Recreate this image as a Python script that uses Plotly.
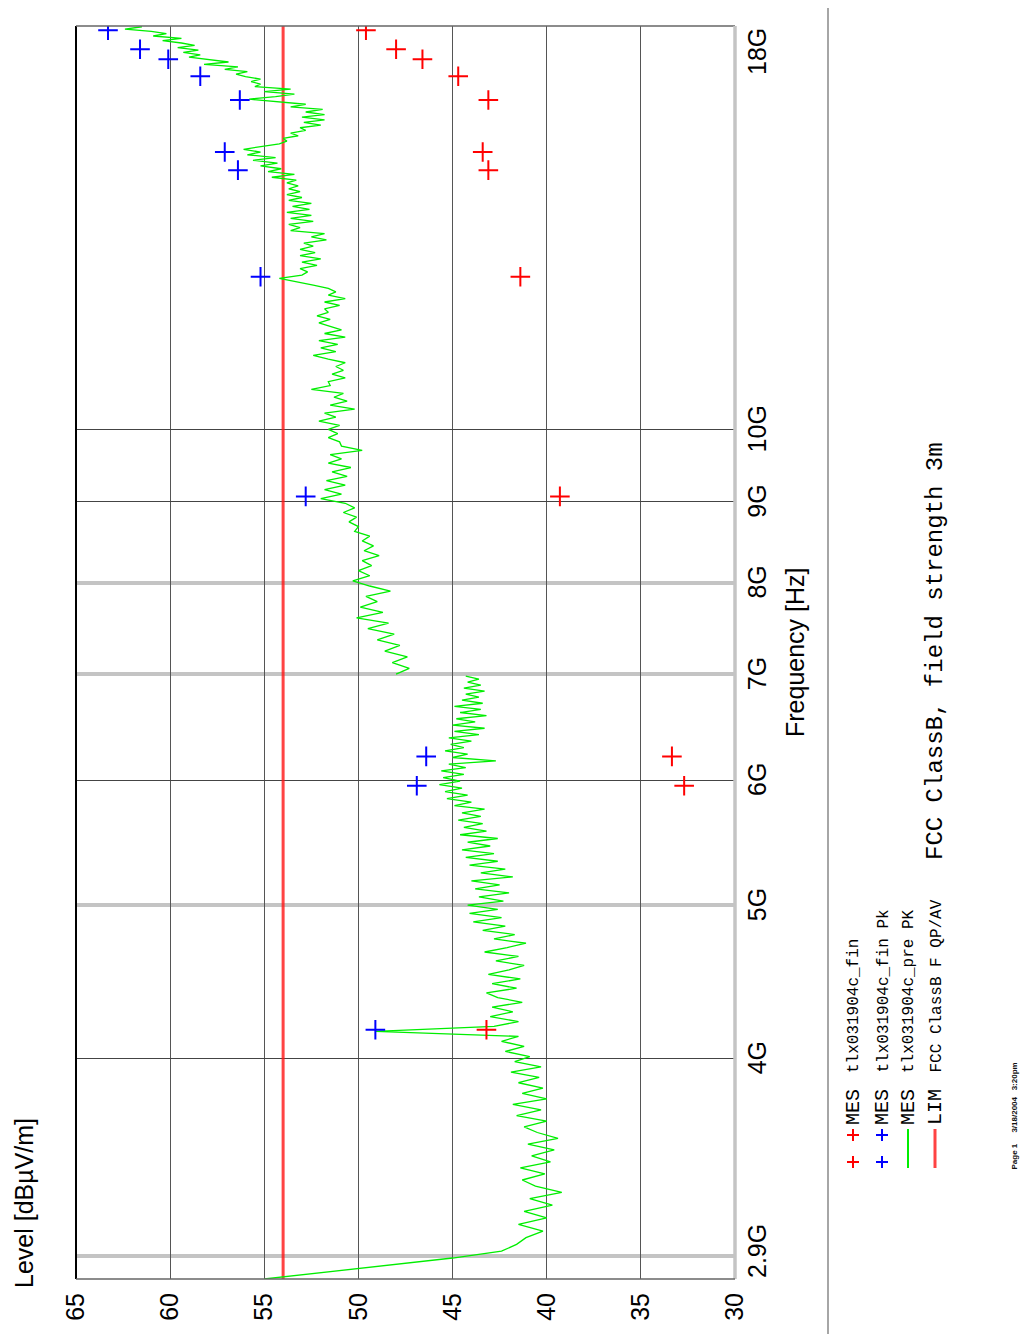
import math
import plotly.graph_objects as go

# ---------------- data ----------------
level_ticks = [65, 60, 55, 50, 45, 40, 35, 30]
freq_tick_ghz = [2.9, 4, 5, 6, 7, 8, 9, 10, 18]
freq_tick_labels = ["2.9G", "4G", "5G", "6G", "7G", "8G", "9G", "10G", "18G"]
grid_dark_ghz = [4, 6, 9, 10]
grid_light_ghz = [3, 5, 7, 8]

# pre-scan (MES tlx031904c_pre PK), lower band, MHz / dBuV/m
pre_low_mhz = [
    2900, 2930, 2960, 2990, 3020, 3050, 3080, 3110, 3140, 3170,
    3200, 3230, 3260, 3290, 3320, 3350, 3380, 3410, 3440, 3470,
    3500, 3530, 3560, 3590, 3620, 3650, 3680, 3710, 3740, 3770,
    3800, 3830, 3860, 3890, 3920, 3950, 3980, 4010, 4040, 4070,
    4100, 4130, 4160, 4190, 4220, 4250, 4280, 4310, 4340, 4370,
    4400, 4430, 4460, 4490, 4520, 4550, 4580, 4610, 4640, 4670,
    4700, 4730, 4760, 4790, 4820, 4850, 4880, 4910, 4940, 4970,
    5000, 5030, 5060, 5090, 5120, 5150, 5180, 5210, 5240, 5270,
    5300, 5330, 5360, 5390, 5420, 5450, 5480, 5510, 5540, 5570,
    5600, 5630, 5660, 5690, 5720, 5750, 5780, 5810, 5840, 5870,
    5900, 5930, 5960, 5990, 6020, 6050, 6080, 6110, 6140, 6170,
    6200, 6230, 6260, 6290, 6320, 6350, 6380, 6410, 6440, 6470,
    6500, 6530, 6560, 6590, 6620, 6650, 6680, 6710, 6740, 6770,
    6800, 6830, 6860, 6890, 6920, 6950, 6980,
]
pre_low_level = [
    55.0, 51.6, 48.2, 45.0, 42.4, 41.6, 41.1, 40.2, 41.5, 40.0,
    41.2, 39.7, 40.9, 39.2, 40.6, 41.3, 40.1, 41.4, 39.8, 40.8,
    39.6, 41.0, 39.4, 40.5, 41.2, 40.0, 41.6, 40.3, 41.8, 40.0,
    41.3, 40.2, 41.5, 40.4, 41.9, 40.3, 41.7, 40.9, 42.2, 41.2,
    42.4, 41.5, 49.1, 42.8, 41.5, 43.0, 41.8, 42.9, 41.3, 42.6,
    43.2, 41.6, 42.9, 41.4, 43.1, 42.0, 41.2, 42.7, 41.5, 43.3,
    42.1, 41.1, 42.8, 41.7, 43.4, 42.2, 43.9, 42.4, 44.1, 42.6,
    44.2, 42.3, 43.6, 42.0, 43.8, 42.5, 44.0, 41.8, 43.5, 42.2,
    44.1, 42.6, 44.3, 42.8, 44.5, 43.0, 44.2, 42.6, 44.6, 43.2,
    44.4, 43.4, 44.7, 43.5, 44.5, 43.3, 44.9, 44.0, 45.3, 44.2,
    45.4, 44.5, 45.7, 44.6, 45.5, 44.4, 45.6, 44.3, 45.2, 42.7,
    45.0, 44.2, 45.4, 44.4, 45.1, 44.0, 45.2, 43.6, 44.9, 43.3,
    45.0, 43.8, 44.8, 43.2, 44.6, 43.5, 44.9, 43.4, 44.5, 43.6,
    44.3, 43.3, 44.4, 43.5, 44.2, 43.6, 44.3,
]

# pre-scan, upper band
pre_high_mhz = [
    7000, 7060, 7120, 7180, 7240, 7300, 7360, 7420, 7480, 7540,
    7600, 7660, 7720, 7780, 7840, 7900, 7960, 8020, 8080, 8140,
    8200, 8260, 8320, 8380, 8440, 8500, 8560, 8620, 8680, 8740,
    8800, 8860, 8920, 8980, 9040, 9100, 9160, 9220, 9280, 9340,
    9400, 9460, 9520, 9580, 9640, 9700, 9760, 9820, 9880, 9940,
    10000, 10060, 10120, 10180, 10240, 10300, 10360, 10420, 10480, 10540,
    10600, 10660, 10720, 10780, 10840, 10900, 10960, 11020, 11080, 11140,
    11200, 11260, 11320, 11380, 11440, 11500, 11560, 11620, 11680, 11740,
    11800, 11860, 11920, 11980, 12040, 12100, 12160, 12220, 12280, 12340,
    12400, 12460, 12520, 12580, 12640, 12700, 12760, 12820, 12880, 12940,
    13000, 13060, 13120, 13180, 13240, 13300, 13360, 13420, 13480, 13540,
    13600, 13660, 13720, 13780, 13840, 13900, 13960, 14020, 14080, 14140,
    14200, 14260, 14320, 14380, 14440, 14500, 14560, 14620, 14680, 14740,
    14800, 14860, 14920, 14980, 15040, 15100, 15160, 15220, 15280, 15340,
    15400, 15460, 15520, 15580, 15640, 15700, 15760, 15820, 15880, 15940,
    16000, 16060, 16120, 16180, 16240, 16300, 16360, 16420, 16480, 16540,
    16600, 16660, 16720, 16780, 16840, 16900, 16960, 17020, 17080, 17140,
    17200, 17260, 17320, 17380, 17440, 17500, 17560, 17620, 17680, 17740,
    17800, 17860, 17920, 17980,
]
pre_high_level = [
    48.0, 47.3, 48.2, 47.4, 48.6, 47.8, 49.0, 48.1, 49.5, 48.4,
    50.1, 48.7, 49.9, 49.0, 49.6, 48.3, 49.4, 50.3, 49.4, 50.0,
    49.3, 49.8, 48.9, 49.7, 49.2, 49.8, 49.4, 50.2, 50.0, 50.5,
    50.1, 50.8, 50.2, 50.7, 52.0, 50.9, 51.8, 50.7, 51.7, 50.6,
    51.4, 50.4, 51.6, 50.9, 51.5, 49.8, 50.9, 51.0, 51.6, 51.1,
    51.6, 51.0, 52.1, 51.2, 51.8, 50.2, 51.5, 50.6, 51.3, 50.8,
    52.5, 51.5, 51.6, 50.7, 51.4, 50.8, 51.2, 50.7, 51.6, 52.4,
    51.2, 52.0, 51.1, 52.1, 50.7, 51.8, 50.9, 51.5, 52.1, 51.5,
    52.2, 51.6, 51.8, 51.0, 51.8, 50.7, 51.6, 51.2, 51.6, 52.4,
    53.3, 54.2, 53.0, 52.7, 53.1, 52.2, 53.0, 52.0, 53.1, 52.3,
    53.1, 52.4, 52.9, 51.7, 52.5, 51.8, 53.6, 53.1, 53.7, 52.4,
    53.6, 52.5, 53.8, 52.6, 53.5, 52.5, 53.7, 53.0, 53.8, 53.1,
    53.7, 53.2, 53.8, 53.3, 54.6, 53.4, 54.8, 54.1, 55.2, 54.3,
    55.6, 54.4, 55.9, 55.2, 56.1, 55.0, 54.2, 53.8, 54.0, 53.2,
    53.6, 52.8, 53.1, 52.0, 52.9, 51.8, 53.0, 51.8, 52.8, 51.9,
    53.6, 52.8, 54.3, 55.8, 54.4, 53.4, 55.0, 53.6, 55.5, 55.2,
    55.7, 55.2, 56.0, 56.5, 55.9, 57.1, 56.4, 58.2, 56.9, 57.9,
    59.0, 58.4, 59.3, 58.5, 59.6, 58.7, 59.4, 60.4, 59.4, 60.9,
    60.2, 61.0, 62.4, 61.5,
]

# final measurements (GHz / dBuV/m)
fin_freq_ghz = [4.17, 5.95, 6.21, 9.07, 12.49, 14.59, 14.98, 16.16, 16.73, 17.15, 17.40, 17.89]
fin_qp_level = [43.2, 32.7, 33.35, 39.3, 41.4, 43.1, 43.4, 43.1, 44.7, 46.6, 48.0, 49.6]
fin_pk_level = [49.1, 46.9, 46.4, 52.8, 55.2, 56.4, 57.1, 56.3, 58.4, 60.1, 61.6, 63.3]

# limit line
lim_freq_ghz = [2.9, 18.0]
lim_level = [54.0, 54.0]

# legend / text
legend_rows = [
    ("MES", "tlx031904c_fin"),
    ("MES", "tlx031904c_fin Pk"),
    ("MES", "tlx031904c_pre PK"),
    ("LIM", "FCC ClassB F QP/AV"),
]
title_text = "FCC ClassB, field strength 3m"
footer_text = "Page 1     3/18/2004   3:20pm"

# ---------------- layout helpers ----------------
W, H = 1035, 1343
BODY = 8                      # default page margin around the plot div
FW, FH = W - 2 * BODY, H - 2 * BODY
X0, X1, Y0, Y1 = 76, 735, 26, 1279   # plot area in page pixels


def px(x):
    return (x - X0) / (X1 - X0)


def py(y):
    return (Y1 - y) / (Y1 - Y0)


SANS = "Liberation Sans, Arial, Helvetica, sans-serif"
MONO = "Courier New, Liberation Mono, monospace"
LIMCOL = "rgba(255,20,20,0.8)"

fig = go.Figure()

fig.add_trace(go.Scatter(
    x=lim_level, y=lim_freq_ghz, mode="lines",
    line=dict(color=LIMCOL, width=3), hoverinfo="skip"))

fig.add_trace(go.Scatter(
    x=pre_low_level, y=[f / 1000 for f in pre_low_mhz], mode="lines",
    line=dict(color="#00ee00", width=1.3)))
fig.add_trace(go.Scatter(
    x=pre_high_level, y=[f / 1000 for f in pre_high_mhz], mode="lines",
    line=dict(color="#00ee00", width=1.3)))

fig.add_trace(go.Scatter(
    x=fin_qp_level, y=fin_freq_ghz, mode="markers",
    marker=dict(symbol="cross-thin", size=14, line=dict(color="#ff0000", width=2))))
fig.add_trace(go.Scatter(
    x=fin_pk_level, y=fin_freq_ghz, mode="markers",
    marker=dict(symbol="cross-thin", size=14, line=dict(color="#0000ff", width=2))))

fig.update_layout(
    width=FW, height=FH,
    margin=dict(l=X0 - BODY, r=FW - (X1 - BODY), t=Y0 - BODY, b=FH - (Y1 - BODY), pad=0),
    paper_bgcolor="white", plot_bgcolor="white",
    showlegend=False,
    font=dict(family=SANS, color="black"),
    xaxis=dict(
        range=[65, 30], autorange=False,
        tickvals=level_ticks, ticktext=[str(v) for v in level_ticks],
        tickangle=-90, tickfont=dict(size=25, family=SANS, color="black"),
        ticks="", ticklabelstandoff=8,
        showgrid=True, gridcolor="#555555", gridwidth=1.4,
        zeroline=False, showline=False,
    ),
    yaxis=dict(
        type="log", range=[math.log10(2.9), math.log10(18)], autorange=False,
        tickvals=grid_dark_ghz, showticklabels=False, ticks="",
        showgrid=True, gridcolor="#444444", gridwidth=1.4,
        minor=dict(tickvals=grid_light_ghz, showgrid=True,
                   gridcolor="#c4c4c4", gridwidth=3.5, ticks=""),
        zeroline=False, showline=False,
    ),
)

shapes = [
    # frame
    dict(type="line", xref="paper", yref="paper", x0=0, x1=0, y0=0, y1=1,
         line=dict(color="black", width=2)),
    dict(type="line", xref="paper", yref="paper", x0=0, x1=1, y0=1, y1=1,
         line=dict(color="#666666", width=1.5)),
    dict(type="line", xref="paper", yref="paper", x0=1, x1=1, y0=0, y1=1,
         line=dict(color="#c4c4c4", width=3.5)),
    dict(type="line", xref="paper", yref="paper", x0=0, x1=1, y0=0, y1=0,
         line=dict(color="#666666", width=1.5)),
    # page separator
    dict(type="line", xref="paper", yref="paper", x0=px(828), x1=px(828),
         y0=py(4), y1=py(1334), line=dict(color="#888888", width=1.5)),
]

# legend symbols
row_x = [853, 882, 908, 935]
for cx, col in ((row_x[0], "#ff0000"), (row_x[1], "#0000ff")):
    for cy in (1135, 1162):
        shapes.append(dict(type="line", xref="paper", yref="paper",
                           x0=px(cx - 6), x1=px(cx + 6), y0=py(cy), y1=py(cy),
                           line=dict(color=col, width=2)))
        shapes.append(dict(type="line", xref="paper", yref="paper",
                           x0=px(cx), x1=px(cx), y0=py(cy - 6), y1=py(cy + 6),
                           line=dict(color=col, width=2)))
shapes.append(dict(type="line", xref="paper", yref="paper",
                   x0=px(row_x[2]), x1=px(row_x[2]), y0=py(1129), y1=py(1168),
                   line=dict(color="#00ee00", width=2)))
shapes.append(dict(type="line", xref="paper", yref="paper",
                   x0=px(row_x[3]), x1=px(row_x[3]), y0=py(1129), y1=py(1168),
                   line=dict(color=LIMCOL, width=3)))
fig.update_layout(shapes=shapes)

ann = []
# frequency tick labels (right side, rotated)
for f, lab in zip(freq_tick_ghz, freq_tick_labels):
    shift = 0
    if lab == "18G":
        shift = -26
    elif lab == "2.9G":
        shift = 28
    ann.append(dict(text=lab, x=px(757), xref="paper", y=math.log10(f), yref="y",
                    yshift=shift, textangle=-90, showarrow=False,
                    xanchor="center", yanchor="middle",
                    font=dict(size=25, family=SANS, color="black")))
ann.append(dict(text="Frequency [Hz]", x=px(795), y=py(652), xref="paper", yref="paper",
                textangle=-90, showarrow=False, xanchor="center", yanchor="middle",
                font=dict(size=25, family=SANS, color="black")))
ann.append(dict(text="Level [dBµV/m]", x=px(24), y=py(1203), xref="paper", yref="paper",
                textangle=-90, showarrow=False, xanchor="center", yanchor="middle",
                font=dict(size=25, family=SANS, color="black")))

for (tag, name), rx in zip(legend_rows, row_x):
    ann.append(dict(text=tag, x=px(rx), y=py(1127), xref="paper", yref="paper",
                    textangle=-90, showarrow=False, xanchor="center", yanchor="bottom",
                    font=dict(size=20, family=MONO, color="black")))
    ann.append(dict(text=name, x=px(rx + 1), y=py(1075), xref="paper", yref="paper",
                    textangle=-90, showarrow=False, xanchor="center", yanchor="bottom",
                    font=dict(size=16, family=MONO, color="black")))

ann.append(dict(text=title_text, x=px(936), y=py(862), xref="paper", yref="paper",
                textangle=-90, showarrow=False, xanchor="center", yanchor="bottom",
                font=dict(size=24, family=MONO, color="black")))
ann.append(dict(text="<b>" + footer_text + "</b>", x=px(1014), y=py(1172),
                xref="paper", yref="paper",
                textangle=-90, showarrow=False, xanchor="center", yanchor="bottom",
                font=dict(size=8, family=SANS, color="#111111")))

fig.update_layout(annotations=ann)

fig.write_html("out.html")
